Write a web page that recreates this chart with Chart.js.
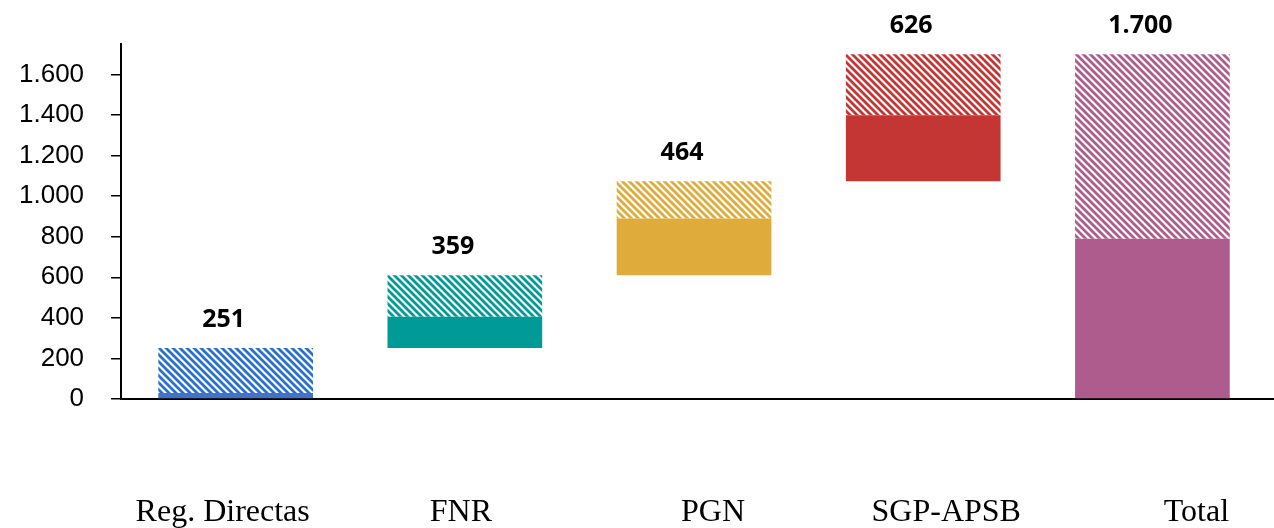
<!DOCTYPE html>
<html>
<head>
<meta charset="utf-8">
<script src="https://cdn.jsdelivr.net/npm/chart.js@4.4.0/dist/chart.umd.min.js"></script>
<style>
  html, body { margin: 0; padding: 0; background: #fff; overflow: hidden; }
  canvas { display: block; }
</style>
</head>
<body>
<canvas id="grafico" width="1274" height="528"></canvas>
<script>
// categorias y valores (waterfall)
var categorias = ['Reg. Directas', 'FNR', 'PGN', 'SGP-APSB', 'Total'];
var totales = [251, 359, 464, 626, 1700];
var base = [0, 251, 610, 1074, 0];
var solido = [30, 155, 280, 325, 790];
var rayado = [221, 204, 184, 301, 910];
var yTicks = [0, 200, 400, 600, 800, 1000, 1200, 1400, 1600];

var colores = ['#2a70d0', '#009a97', '#dfab3a', '#c43634', '#ae5c8e'];
var coloresSolidos = ['#4472c4', '#009a97', '#dfab3a', '#c43634', '#ae5c8e'];
// pequeño desplazamiento de los nombres de categoria respecto al centro de la barra
var desfaseNombres = [-13, -4, 19, 23, 44];

function miles(n) {
    return String(n).replace(/\B(?=(\d{3})+(?!\d))/g, '.');
}

function rayas(color) {
    var c = document.createElement('canvas');
    c.width = 7; c.height = 7;
    var x = c.getContext('2d');
    x.fillStyle = '#ffffff';
    x.fillRect(0, 0, 7, 7);
    x.strokeStyle = color;
    x.lineWidth = 2.8;
    x.beginPath();
    for (var k = -7; k <= 14; k += 7) {
        x.moveTo(k - 1, -1);
        x.lineTo(k + 8, 8);
    }
    x.stroke();
    return x.createPattern(c, 'repeat');
}

var etiquetas = {
    id: 'etiquetas',
    afterDatasetsDraw: function (chart) {
        var ctx = chart.ctx;
        var meta = chart.getDatasetMeta(2);
        var ejeX = chart.scales.x;
        ctx.save();
        // la linea del eje x llega hasta el borde derecho
        ctx.strokeStyle = '#000';
        ctx.lineWidth = 2;
        ctx.beginPath();
        ctx.moveTo(chart.chartArea.right - 2, Math.round(ejeX.top));
        ctx.lineTo(chart.width, Math.round(ejeX.top));
        ctx.stroke();

        ctx.font = 'bold 25px "Open Sans", "Liberation Sans", sans-serif';
        ctx.fillStyle = '#000';
        ctx.textAlign = 'center';
        ctx.textBaseline = 'middle';
        meta.data.forEach(function (bar, i) {
            ctx.fillText(miles(totales[i]), bar.x - 12, bar.y - 28);
        });
        // nombres de categoria
        ctx.font = '32px "Liberation Serif", "Times New Roman", serif';
        ctx.textBaseline = 'alphabetic';
        categorias.forEach(function (nombre, i) {
            ctx.fillText(nombre, ejeX.getPixelForTick(i) + desfaseNombres[i], 521);
        });
        ctx.restore();
    }
};

var meugrafico = new Chart(document.getElementById('grafico'), {
    type: 'bar',
    data: {
        labels: categorias,
        datasets: [
            { label: 'base', data: base, backgroundColor: 'rgba(0,0,0,0)' },
            { label: 'solido', data: solido, backgroundColor: coloresSolidos },
            { label: 'rayado', data: rayado, backgroundColor: colores.map(rayas) }
        ]
    },
    options: {
        responsive: false,
        animation: false,
        devicePixelRatio: 1,
        barPercentage: 0.675,
        categoryPercentage: 1,
        layout: { padding: { left: -8, right: 7, top: 44, bottom: 121 } },
        plugins: { legend: { display: false }, tooltip: { enabled: false } },
        scales: {
            x: {
                stacked: true,
                grid: { display: false },
                border: { display: true, color: '#000', width: 2 },
                ticks: { display: false }
            },
            y: {
                stacked: true,
                min: 0,
                max: 1750,
                afterBuildTicks: function (axis) {
                    axis.ticks = yTicks.map(function (v) { return { value: v }; });
                },
                grid: { drawOnChartArea: false, drawTicks: true, tickLength: 10, color: '#000', lineWidth: 1.5 },
                border: { display: true, color: '#000', width: 2 },
                ticks: {
                    autoSkip: false,
                    padding: 27,
                    color: '#000',
                    font: { family: '"Liberation Sans", Arial, sans-serif', size: 26 },
                    callback: function (v) { return miles(v); }
                }
            }
        }
    },
    plugins: [etiquetas]
});
</script>
</body>
</html>
